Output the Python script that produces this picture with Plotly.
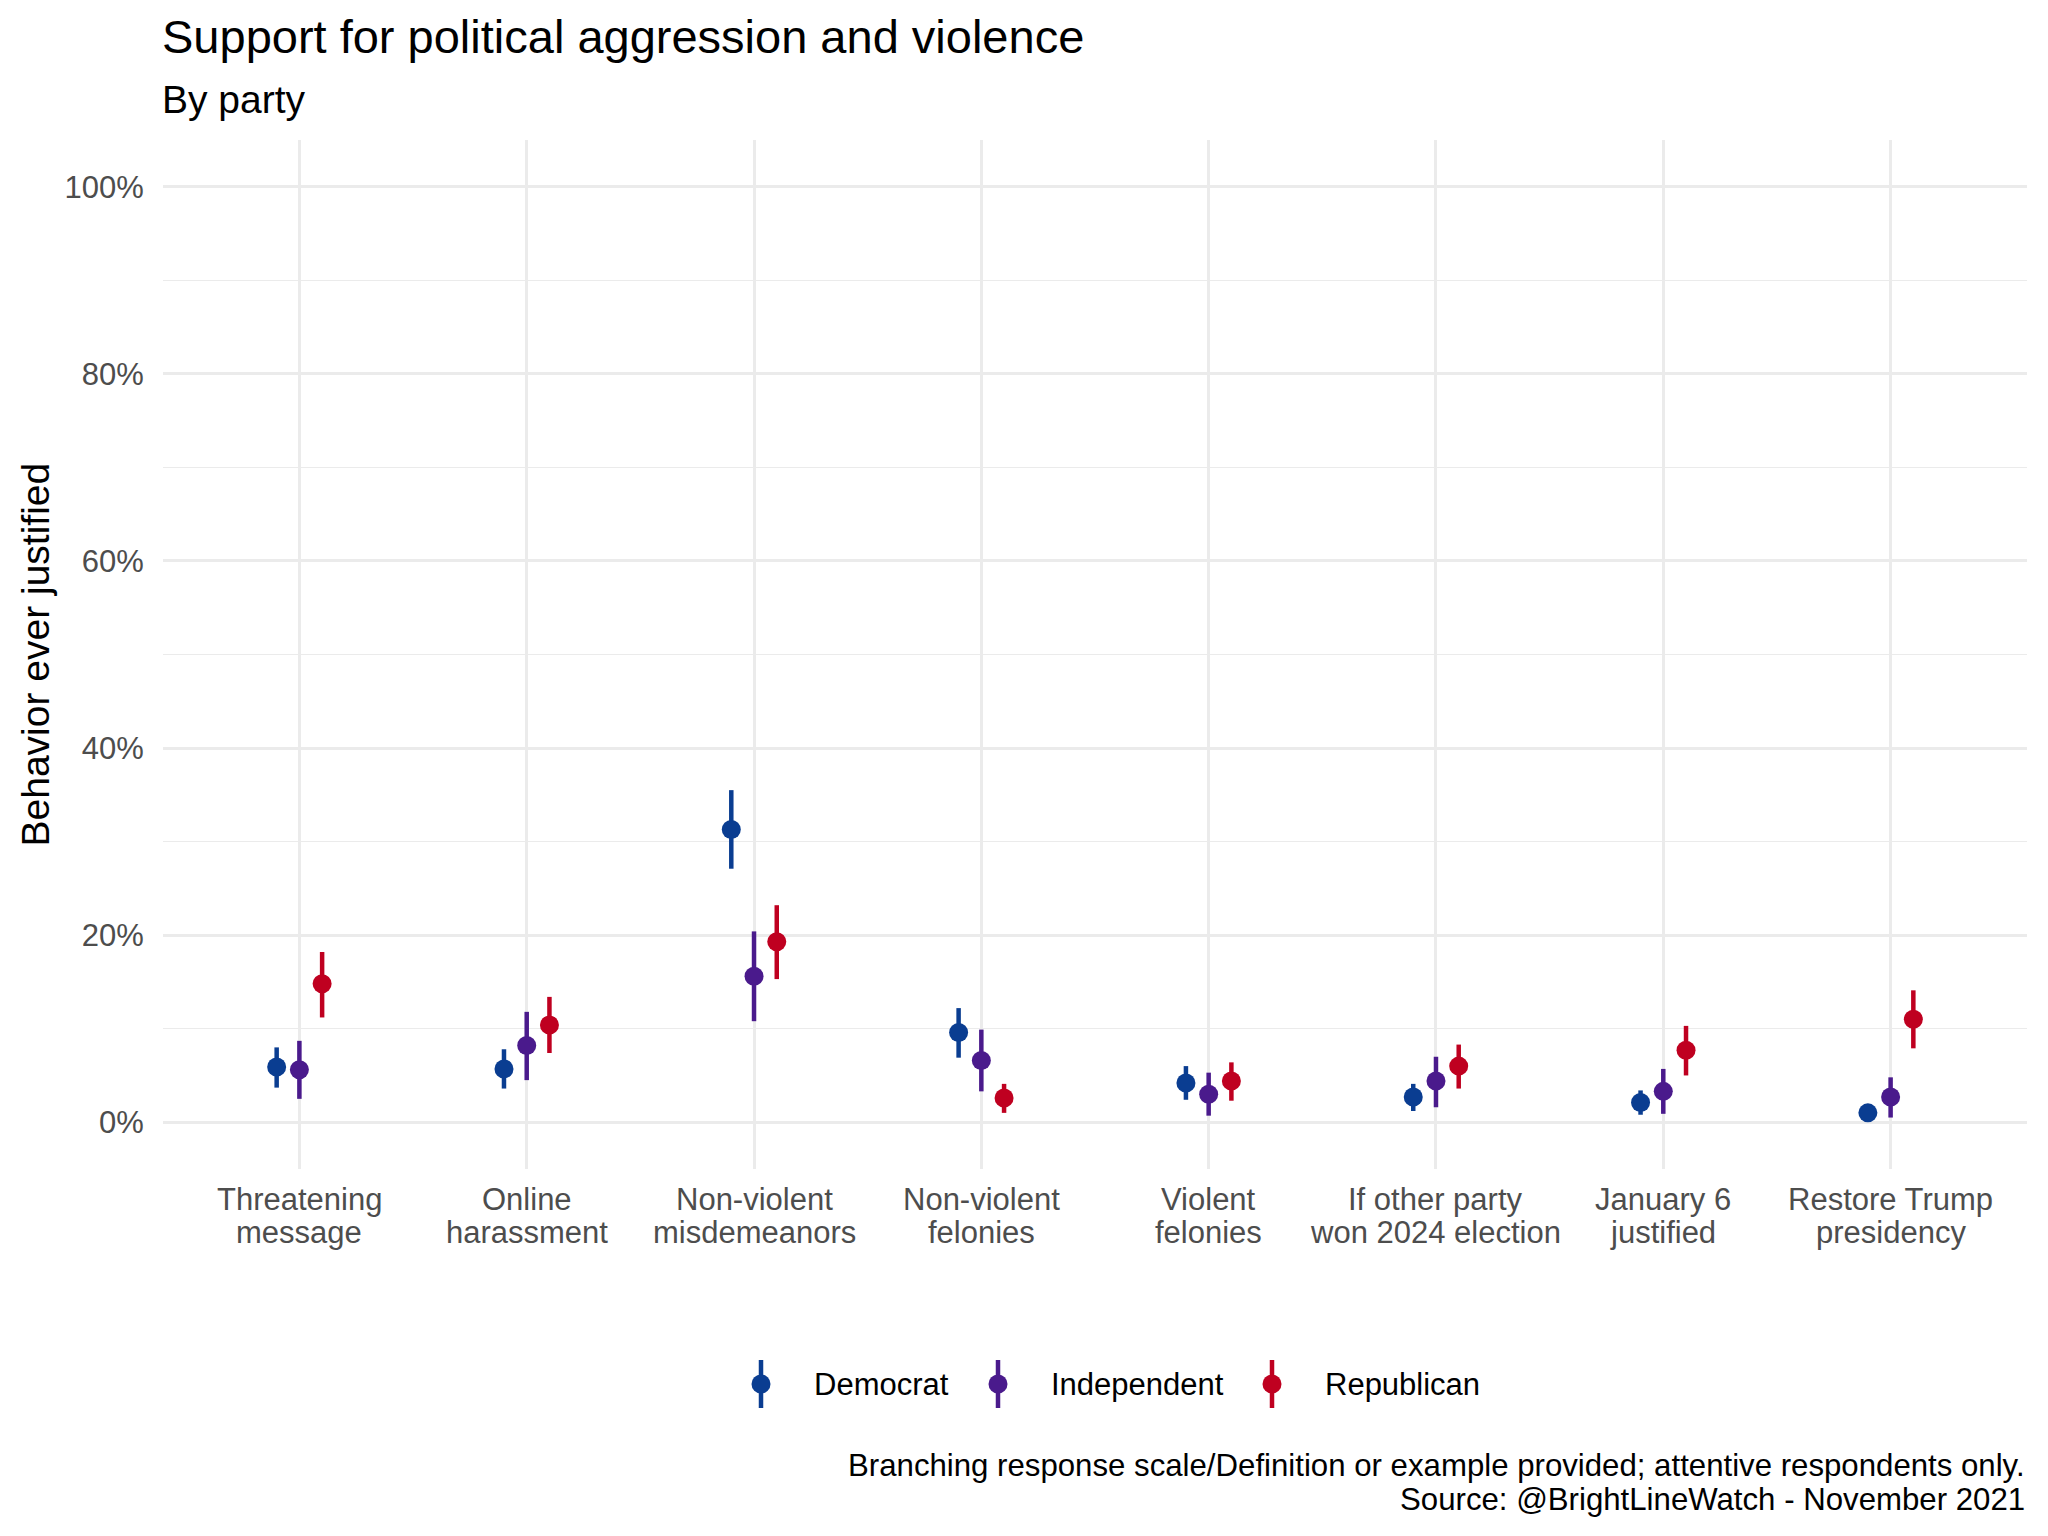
import plotly.graph_objects as go

# ---------------- data ----------------
categories = ["Threatening<br>message", "Online<br>harassment", "Non-violent<br>misdemeanors",
              "Non-violent<br>felonies", "Violent<br>felonies", "If other party<br>won 2024 election",
              "January 6<br>justified", "Restore Trump<br>presidency"]
parties = ["Democrat", "Independent", "Republican"]

dem = [5.9, 5.7, 31.3, 9.6, 4.2, 2.7, 2.1, 1.0]
dem_lo = [3.7, 3.6, 27.1, 6.9, 2.4, 1.2, 0.8, 0.5]
dem_hi = [8.0, 7.8, 35.5, 12.2, 6.0, 4.1, 3.4, 1.5]

ind = [5.6, 8.2, 15.6, 6.6, 3.0, 4.4, 3.3, 2.7]
ind_lo = [2.5, 4.5, 10.8, 3.3, 0.7, 1.6, 0.9, 0.5]
ind_hi = [8.7, 11.8, 20.4, 9.9, 5.3, 7.0, 5.7, 4.8]

rep = [14.8, 10.4, 19.3, 2.6, 4.4, 6.0, 7.7, 11.0]
rep_lo = [11.2, 7.4, 15.3, 1.0, 2.3, 3.6, 5.0, 7.9]
rep_hi = [18.2, 13.4, 23.2, 4.1, 6.4, 8.3, 10.3, 14.1]

y_ticks = [0, 20, 40, 60, 80, 100]
y_ticklabels = ["0%", "20%", "40%", "60%", "80%", "100%"]

# ---------------- styling ----------------
colors = {"Democrat": "#0A3D91", "Independent": "#4A1A8C", "Republican": "#BF0020"}
dodge = {"Democrat": -0.1, "Independent": 0.0, "Republican": 0.1}
FONT = "Liberation Sans, Arial, Helvetica, sans-serif"
OFF = 8  # page body margin
W, H = 2048, 1536
ML, MR, MT, MB = 155, 29, 132, 375
PW, PH = W - ML - MR, H - MT - MB


def px_x(px):
    # px measured in page coordinates
    return (px - OFF - ML) / PW


def px_y(py):
    return (H - MB - (py - OFF)) / PH


series = {
    "Democrat": (dem, dem_lo, dem_hi),
    "Independent": (ind, ind_lo, ind_hi),
    "Republican": (rep, rep_lo, rep_hi),
}

fig = go.Figure()
for p in parties:
    v, lo, hi = series[p]
    xs = [i + 1 + dodge[p] for i in range(len(categories))]
    fig.add_trace(go.Scatter(
        x=xs, y=v, mode="markers", name=p, showlegend=False,
        marker=dict(color=colors[p], size=19, line=dict(width=0)),
        error_y=dict(type="data", symmetric=False,
                     array=[h - c for h, c in zip(hi, v)],
                     arrayminus=[c - l for c, l in zip(v, lo)],
                     color=colors[p], thickness=4.5, width=0),
    ))

shapes = []
annotations = []

# ---------------- category labels (two lines each) ----------------
label_line_y = [1199, 1232]
for i, cat in enumerate(categories):
    for line, ly in zip(cat.split("<br>"), label_line_y):
        annotations.append(dict(text=line, xref="x", yref="paper", x=i + 1, y=px_y(ly),
                                xanchor="center", yanchor="middle", showarrow=False,
                                font=dict(family=FONT, size=31, color="#4D4D4D")))

# ---------------- manual legend (pointrange glyphs) ----------------
legend_glyph_x = [761, 998, 1272]
legend_text_x = [812, 1049, 1323]
legend_y = 1384
for p, gx, tx in zip(parties, legend_glyph_x, legend_text_x):
    shapes.append(dict(type="line", xref="paper", yref="paper",
                       x0=px_x(gx), x1=px_x(gx), y0=px_y(legend_y - 24), y1=px_y(legend_y + 24),
                       line=dict(color=colors[p], width=4.5)))
    shapes.append(dict(type="circle", xref="paper", yref="paper",
                       xsizemode="pixel", ysizemode="pixel",
                       xanchor=px_x(gx), yanchor=px_y(legend_y),
                       x0=-9.5, x1=9.5, y0=-9.5, y1=9.5,
                       fillcolor=colors[p], line=dict(width=0)))
    annotations.append(dict(text=p, xref="paper", yref="paper", x=px_x(tx), y=px_y(legend_y),
                            xanchor="left", yanchor="middle", showarrow=False,
                            font=dict(family=FONT, size=31, color="black")))

# titles, axis title and caption
annotations.append(dict(text="Support for political aggression and violence", xref="paper", yref="paper",
                        x=px_x(160), y=px_y(8), xanchor="left", yanchor="top", showarrow=False,
                        font=dict(family=FONT, size=47, color="black")))
annotations.append(dict(text="By party", xref="paper", yref="paper",
                        x=px_x(160), y=px_y(76), xanchor="left", yanchor="top", showarrow=False,
                        font=dict(family=FONT, size=39, color="black")))
annotations.append(dict(text="Behavior ever justified", xref="paper", yref="paper",
                        x=px_x(35), y=0.5, xanchor="center", yanchor="middle", textangle=-90,
                        showarrow=False, font=dict(family=FONT, size=39, color="black")))
annotations.append(dict(text="Branching response scale/Definition or example provided; attentive respondents only.",
                        xref="paper", yref="paper", x=1.0, y=px_y(1465), xanchor="right", yanchor="middle",
                        showarrow=False, font=dict(family=FONT, size=31.2, color="black")))
annotations.append(dict(text="Source: @BrightLineWatch - November 2021",
                        xref="paper", yref="paper", x=1.0, y=px_y(1499), xanchor="right", yanchor="middle",
                        showarrow=False, font=dict(family=FONT, size=31.2, color="black")))

fig.update_layout(
    width=W, height=H,
    margin=dict(l=ML, r=MR, t=MT, b=MB),
    paper_bgcolor="white", plot_bgcolor="white",
    font=dict(family=FONT, size=31, color="#4D4D4D"),
    showlegend=False,
    shapes=shapes,
    annotations=annotations,
    xaxis=dict(
        range=[0.4, len(categories) + 0.6],
        tickvals=list(range(1, len(categories) + 1)),
        showticklabels=False,
        showgrid=True, gridcolor="#EBEBEB", gridwidth=2.7,
        zeroline=False, showline=False, ticks="",
    ),
    yaxis=dict(
        range=[-5, 105],
        tickvals=y_ticks, ticktext=y_ticklabels,
        showgrid=True, gridcolor="#EBEBEB", gridwidth=2.7,
        minor=dict(dtick=10, tick0=0, showgrid=True, gridcolor="#EBEBEB", gridwidth=1.4),
        zeroline=False, showline=False,
        ticks="outside", ticklen=12, tickcolor="rgba(0,0,0,0)",
        tickfont=dict(family=FONT, size=31, color="#4D4D4D"),
    ),
)

fig.write_html("out.html")
